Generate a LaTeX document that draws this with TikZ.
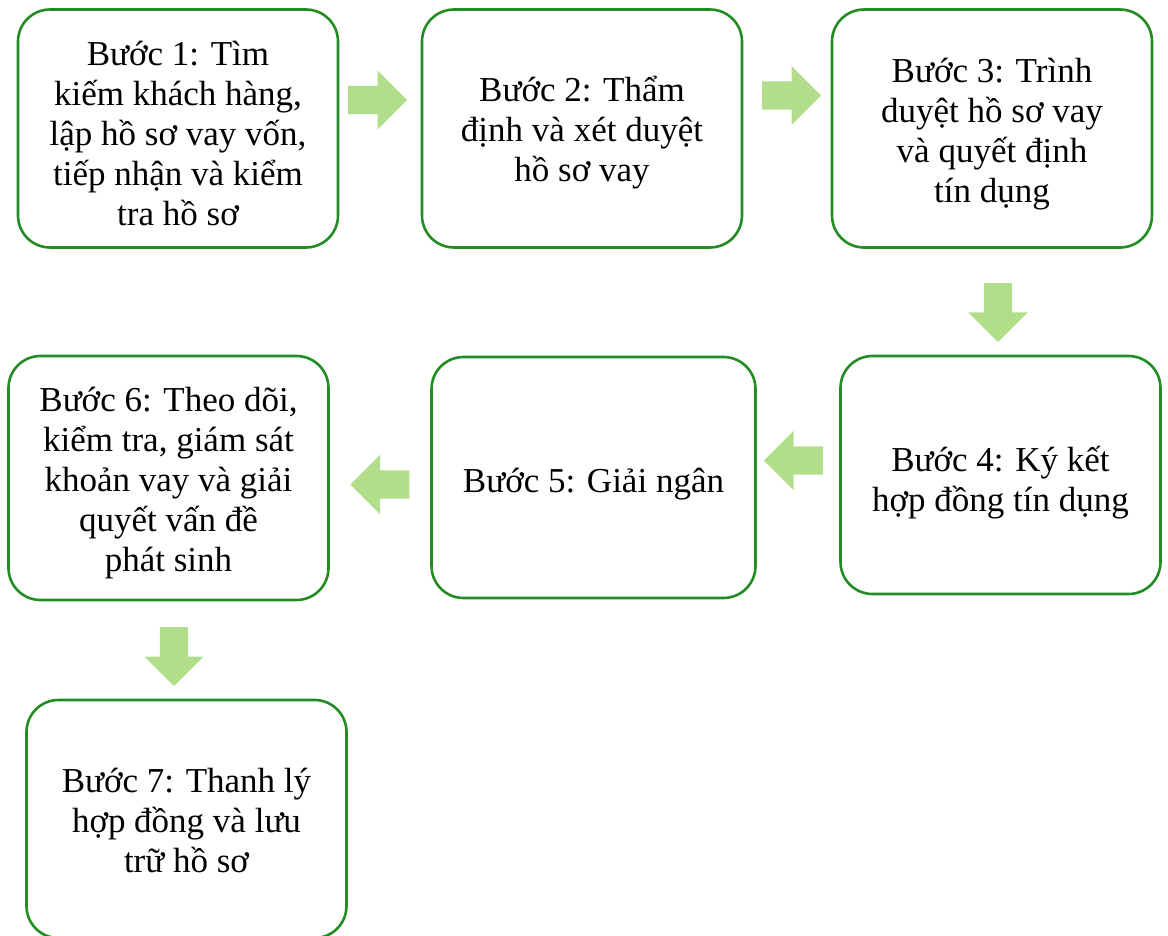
\documentclass[tikz,border=0pt]{standalone}
\usepackage{fontspec}
\setmainfont{Liberation Serif}
\usepackage{tikz}
\usetikzlibrary{shapes.arrows}
\definecolor{boxgreen}{RGB}{35,140,35}
\definecolor{arrowgreen}{RGB}{178,222,140}
\tikzstyle{stepbox}=[draw=boxgreen,line width=2.6pt,rounded corners=32pt,fill=white,minimum width=320pt,minimum height=238pt,inner sep=0pt,font=\fontsize{35}{40}\selectfont]
\tikzstyle{blockarrow}=[single arrow,fill=arrowgreen,draw=none,minimum height=59pt,inner xsep=0pt,inner ysep=14pt,single arrow head extend=15.5pt,anchor=tail]
\newcommand\steptext[2][6pt]{\raisebox{-#1}[\height][\depth]{\begin{tabular}{@{}c@{}}#2\end{tabular}}}

\begin{document}
\begin{tikzpicture}[x=1pt,y=-1pt]
\useasboundingbox (0,0) rectangle (1168,936);
% steps
\node [stepbox] (b1) at (178,128.5) {\steptext[9pt]{Bước 1: Tìm\\kiếm khách hàng,\\lập hồ sơ vay vốn,\\tiếp nhận và kiểm\\tra hồ sơ}};
\node [stepbox] (b2) at (582,128.5) {\steptext[5pt]{Bước 2: Thẩm\\định và xét duyệt\\hồ sơ vay}};
\node [stepbox] (b3) at (992,128.5) {\steptext{Bước 3: Trình\\duyệt hồ sơ vay\\và quyết định\\tín dụng}};
\node [stepbox] (b4) at (1000.5,475) {\steptext[8pt]{Bước 4: Ký kết\\hợp đồng tín dụng}};
\node [stepbox,minimum width=324pt,minimum height=241pt] (b5) at (593.5,477.5) {\steptext[7pt]{Bước 5: Giải ngân}};
\node [stepbox,minimum height=244pt] (b6) at (168.5,478) {\steptext[5pt]{Bước 6: Theo dõi,\\kiểm tra, giám sát\\khoản vay và giải\\quyết vấn đề\\phát sinh}};
\node [stepbox] (b7) at (186.5,819) {\steptext[5pt]{Bước 7: Thanh lý\\hợp đồng và lưu\\trữ hồ sơ}};
% arrows
\node [blockarrow] (a12) at (348,100) {};
\node [blockarrow] (a23) at (762,95.5) {};
\node [blockarrow,rotate=-90] (a34) at (998,283) {};
\node [blockarrow,rotate=180] (a45) at (823,460.5) {};
\node [blockarrow,rotate=180] (a56) at (409.5,484.5) {};
\node [blockarrow,rotate=-90] (a67) at (174,627) {};
\end{tikzpicture}
\end{document}
